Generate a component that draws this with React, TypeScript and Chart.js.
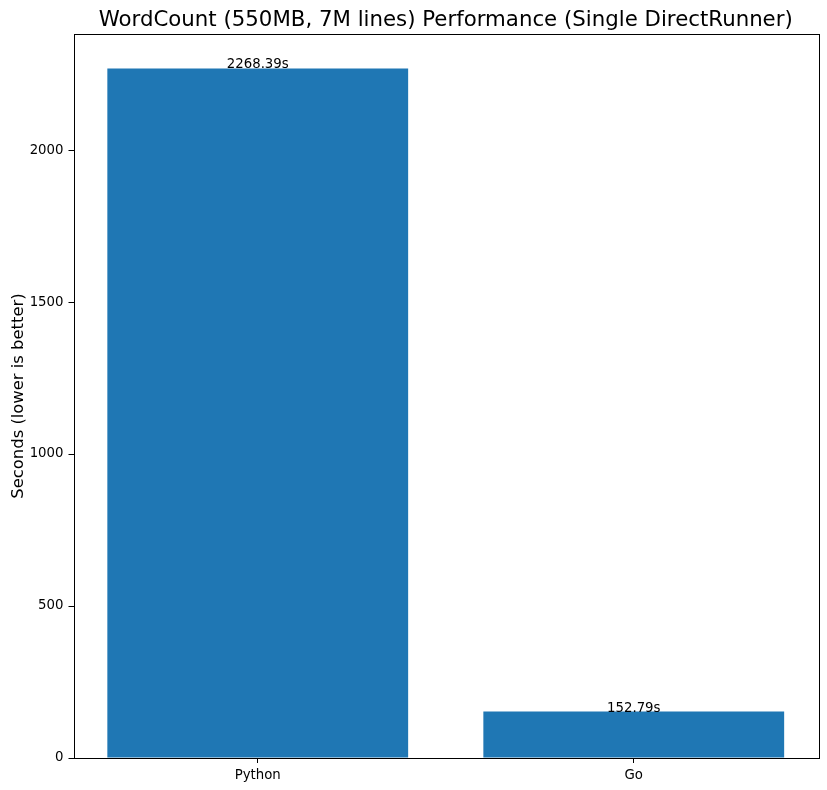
import React, { useEffect, useRef } from "react";
import { Chart, registerables } from "chart.js";

Chart.register(...registerables);

const categories = ["Python", "Go"];
const seconds = [2268.39, 152.79];
const yTicks = [0, 500, 1000, 1500, 2000];
const titleText = "WordCount (550MB, 7M lines) Performance (Single DirectRunner)";
const yLabel = "Seconds (lower is better)";

const FONT = "'DejaVu Sans', sans-serif";

export default function App() {
  const ref = useRef<HTMLCanvasElement | null>(null);

  useEffect(() => {
    if (!ref.current) return;
    const overlay = {
      id: "overlay",
      afterDatasetsDraw(chart: any) {
        const ctx = chart.ctx;
        const meta = chart.getDatasetMeta(0);
        ctx.save();
        ctx.fillStyle = "#000";
        ctx.font = `13.3px ${FONT}`;
        ctx.textAlign = "center";
        ctx.textBaseline = "alphabetic";
        meta.data.forEach((el: any, i: number) => {
          ctx.fillText(seconds[i].toFixed(2) + "s", el.x, el.y);
        });
        ctx.restore();
      },
      afterDraw(chart: any) {
        const ctx = chart.ctx;
        const a = chart.chartArea;
        ctx.save();
        ctx.strokeStyle = "#000";
        ctx.lineWidth = 1;
        ctx.strokeRect(Math.round(a.left) + 0.5, Math.round(a.top) + 0.5, Math.round(a.right - a.left), Math.round(a.bottom - a.top));
        ctx.fillStyle = "#000";
        ctx.font = `21.3px ${FONT}`;
        ctx.textAlign = "center";
        ctx.textBaseline = "alphabetic";
        ctx.fillText(titleText, (a.left + a.right) / 2, 26);
        ctx.translate(23, (a.top + a.bottom) / 2);
        ctx.rotate(-Math.PI / 2);
        ctx.font = `16.4px ${FONT}`;
        ctx.fillText(yLabel, 0, 0);
        ctx.restore();
      },
    };

    const chart = new Chart(ref.current, {
      type: "bar",
      data: {
        datasets: [
          {
            data: categories.map((c, i) => ({ x: i, y: seconds[i] })),
            backgroundColor: "#1f77b4",
            borderWidth: 0,
            categoryPercentage: 1,
            barPercentage: 0.8,
          },
        ],
      },
      options: {
        responsive: false,
        animation: false,
        devicePixelRatio: 1,
        layout: { padding: { left: 0, right: 9, top: 34, bottom: 0 } },
        plugins: {
          legend: { display: false },
          tooltip: { enabled: false },
          title: { display: false },
        },
        scales: {
          x: {
            type: "linear",
            offset: false,
            min: -0.49,
            max: 1.49,
            afterBuildTicks: (scale: any) => {
              scale.ticks = categories.map((_, i) => ({ value: i }));
            },
            afterFit: (scale: any) => {
              scale.height = 32;
            },
            ticks: {
              color: "#000",
              font: { family: FONT, size: 13.3 },
              padding: 5,
              maxRotation: 0,
              autoSkip: false,
              callback: (v: any, i: number) => categories[i],
            },
            grid: {
              display: true,
              offset: false,
              drawOnChartArea: false,
              drawTicks: true,
              tickLength: 5,
              tickColor: "#000",
              tickWidth: 1,
            },
            border: { display: false },
          },
          y: {
            type: "linear",
            min: 0,
            max: 2381.8,
            afterBuildTicks: (scale: any) => {
              scale.ticks = yTicks.map((v) => ({ value: v }));
            },
            afterFit: (scale: any) => {
              scale.width = 73.5;
            },
            ticks: {
              color: "#000",
              font: { family: FONT, size: 13.3 },
              padding: 5,
              callback: (v: any) => String(v),
            },
            grid: {
              display: true,
              drawOnChartArea: false,
              drawTicks: true,
              tickLength: 5,
              tickColor: "#000",
              tickWidth: 1,
            },
            border: { display: false },
          },
        },
      },
      plugins: [overlay],
    } as any);

    return () => chart.destroy();
  }, []);

  return (
    <div style={{ position: "absolute", left: 0, top: 0, width: 827, height: 790, background: "#fff" }}>
      <canvas ref={ref} width={827} height={790} style={{ display: "block" }} />
    </div>
  );
}
